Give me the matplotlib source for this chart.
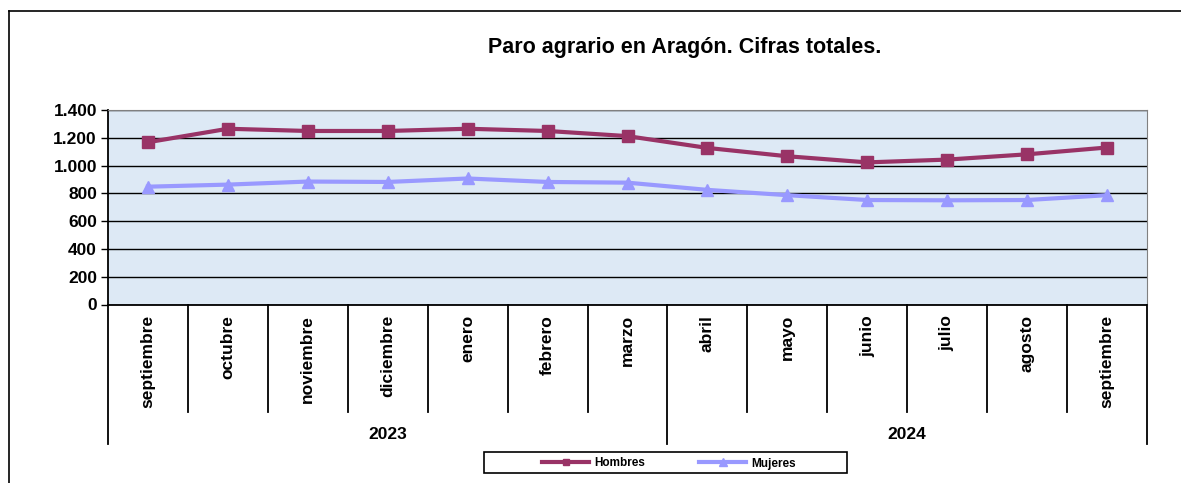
import matplotlib
matplotlib.use('Agg')
from matplotlib import pyplot as plt
from matplotlib.lines import Line2D
from matplotlib.patches import Rectangle
import matplotlib.transforms as mtransforms

plt.rcParams['font.family'] = ['Liberation Sans', 'DejaVu Sans']

meses = ['septiembre', 'octubre', 'noviembre', 'diciembre', 'enero', 'febrero',
         'marzo', 'abril', 'mayo', 'junio', 'julio', 'agosto', 'septiembre']
anios = ['2023', '2024']
hombres = [1168, 1265, 1249, 1249, 1265, 1249, 1212, 1127, 1067, 1023, 1043, 1081, 1130]
mujeres = [848, 863, 885, 882, 907, 882, 877, 825, 787, 752, 750, 752, 787]
yticks = [0, 200, 400, 600, 800, 1000, 1200, 1400]
ytick_labels = ['0', '200', '400', '600', '800', '1.000', '1.200', '1.400']

W, H = 1181, 483
fig = plt.figure(figsize=(W / 100, H / 100), dpi=100)
ax = fig.add_axes([108 / W, 1 - 304.5 / H, (1147 - 108) / W, (304.5 - 110) / H])
ax.set_facecolor('#dde9f5')

x = list(range(len(meses)))
ax.plot(x, hombres, color='#993366', lw=3, marker='s', ms=8, label='Hombres', zorder=3)
ax.plot(x, mujeres, color='#9999ff', lw=3, marker='^', ms=8.5, label='Mujeres', zorder=3)

ax.set_xlim(-0.5, len(meses) - 0.5)
ax.set_ylim(0, 1400)
ax.set_yticks(yticks)
ax.set_yticklabels(ytick_labels, fontsize=12.5, fontweight='bold')
ax.yaxis.grid(True, color='black', lw=1)
ax.set_axisbelow(True)
ax.tick_params(axis='y', length=5, width=1, pad=3)
ax.set_xticks([])
ax.spines['left'].set_color('black')
ax.spines['bottom'].set_color('black')
ax.spines['left'].set_linewidth(1.3)
ax.spines['bottom'].set_linewidth(1.3)
ax.spines['top'].set_color('#808080')
ax.spines['right'].set_color('#808080')

# category axis: month labels, separators, year groups
trans = mtransforms.blended_transform_factory(ax.transData, ax.transAxes)
y_short = (304.5 - 412) / (304.5 - 110)
y_long = (304.5 - 444) / (304.5 - 110)
split = 7  # position of the year group line as drawn
for i in range(len(meses) + 1):
    xs = i - 0.5
    yb = y_long if i in (0, split, len(meses)) else y_short
    ax.plot([xs, xs], [0, yb], color='black', lw=1.3, transform=trans, clip_on=False)
for i, m in enumerate(meses):
    ax.text(i, -0.055, m, rotation=90, ha='center', va='top', fontsize=12.5,
            fontweight='bold', transform=trans)
ax.text((split - 1) / 2, -0.67, anios[0], ha='center', va='center', fontsize=12.5,
        fontweight='bold', transform=trans)
ax.text((split - 0.5 + len(meses) - 0.5) / 2, -0.67, anios[1], ha='center', va='center',
        fontsize=12.5, fontweight='bold', transform=trans)

fig.text(685 / W, 1 - 48 / H, 'Paro agrario en Aragón. Cifras totales.', ha='center',
         va='center', fontsize=15.5, fontweight='bold')

# outer chart frame (cropped on the right and bottom)
fig.add_artist(Line2D([9.5 / W, 9.5 / W], [0, 1 - 11 / H], color='black', lw=1.2))
fig.add_artist(Line2D([9.5 / W, 1], [1 - 11 / H, 1 - 11 / H], color='black', lw=1.2))

# legend with its own box
fig.add_artist(Rectangle((484 / W, 1 - 473 / H), 363 / W, 21 / H, transform=fig.transFigure,
                         facecolor='white', edgecolor='black', lw=1.2))
fig.legend(loc='center', bbox_to_anchor=(669 / W, 1 - 463.5 / H), ncol=2,
           prop={'size': 8.5, 'weight': 'bold'}, handlelength=4.0, numpoints=1,
           columnspacing=4.6, handletextpad=0.4, frameon=False, markerscale=0.6)

fig.savefig('out.png', dpi=100)
